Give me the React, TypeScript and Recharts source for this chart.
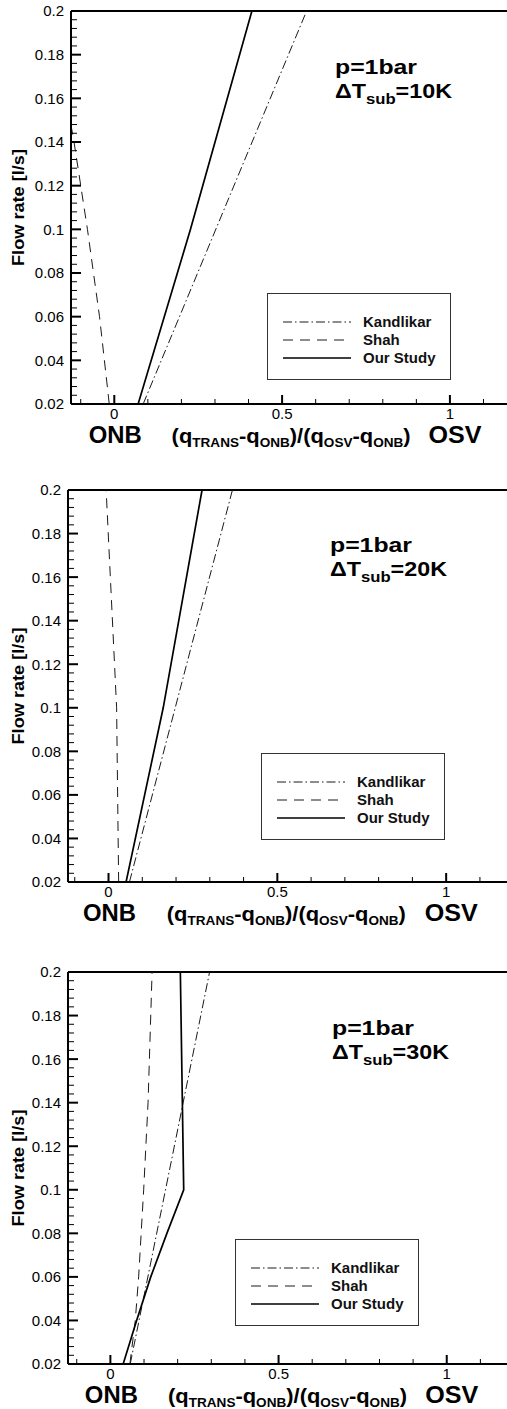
import React from "react";
import { LineChart, Line, XAxis, YAxis, ReferenceLine, Legend } from "recharts";

// ΔTsub = 10 K
const kandlikar10Flow = [0.02, 0.2];
const kandlikar10Q = [0.086, 0.573];
const shah10Flow = [0.02, 0.06, 0.1, 0.14, 0.2];
const shah10Q = [-0.015, -0.044, -0.08, -0.12, -0.19];
const study10Flow = [0.02, 0.1, 0.2];
const study10Q = [0.071, 0.227, 0.41];

// ΔTsub = 20 K
const kandlikar20Flow = [0.02, 0.2];
const kandlikar20Q = [0.062, 0.367];
const shah20Flow = [0.02, 0.1, 0.2];
const shah20Q = [0.03, 0.024, -0.007];
const study20Flow = [0.02, 0.1, 0.2];
const study20Q = [0.052, 0.162, 0.277];

// ΔTsub = 30 K
const kandlikar30Flow = [0.02, 0.2];
const kandlikar30Q = [0.059, 0.295];
const shah30Flow = [0.02, 0.04, 0.06, 0.1, 0.14, 0.2];
const shah30Q = [0.058, 0.074, 0.084, 0.099, 0.112, 0.124];
const study30Flow = [0.02, 0.04, 0.06, 0.08, 0.1, 0.2];
const study30Q = [0.038, 0.078, 0.12, 0.168, 0.218, 0.208];

const seriesNames = ["Kandlikar", "Shah", "Our Study"];
const subcooling = ["10K", "20K", "30K"];

const yMajorTicks = [0.02, 0.04, 0.06, 0.08, 0.1, 0.12, 0.14, 0.16, 0.18, 0.2];
const xMajorTicks = [0, 0.5, 1];

const FONT = "'Liberation Sans', Arial, Helvetica, sans-serif";
const CHART_W = 512;

const STYLE: Record<string, { stroke: string; width: number; dash?: string }> = {
  Kandlikar: { stroke: "#1a1a1a", width: 1, dash: "9 3 1.5 3" },
  Shah: { stroke: "#1a1a1a", width: 1, dash: "10 7" },
  "Our Study": { stroke: "#000", width: 1.7 },
};

// minor ticks: every 0.004 on flow rate, every 0.1 on the x axis
const yTicks = Array.from({ length: 46 }, (_, i) => +(0.02 + i * 0.004).toFixed(3));
const xTicks = Array.from({ length: 13 }, (_, i) => +(-0.1 + i * 0.1).toFixed(2));

const isMajor = (v: number, majors: number[]) => majors.some((m) => Math.abs(m - v) < 1e-6);

const toPoints = (q: number[], flow: number[]) => flow.map((f, i) => ({ q: q[i], flow: f }));

const panels = [
  {
    dt: subcooling[0],
    series: [
      toPoints(kandlikar10Q, kandlikar10Flow),
      toPoints(shah10Q, shah10Flow),
      toPoints(study10Q, study10Flow),
    ],
    plotTop: 11,
    plotBottom: 404,
    plotLeft: 71,
    domain: [-0.129, 1.185],
    legend: { x: 267, y: 293 },
    note: { x: 335, y: 74 },
  },
  {
    dt: subcooling[1],
    series: [
      toPoints(kandlikar20Q, kandlikar20Flow),
      toPoints(shah20Q, shah20Flow),
      toPoints(study20Q, study20Flow),
    ],
    plotTop: 490,
    plotBottom: 882,
    plotLeft: 68,
    domain: [-0.12, 1.195],
    legend: { x: 261, y: 753 },
    note: { x: 330, y: 552 },
  },
  {
    dt: subcooling[2],
    series: [
      toPoints(kandlikar30Q, kandlikar30Flow),
      toPoints(shah30Q, shah30Flow),
      toPoints(study30Q, study30Flow),
    ],
    plotTop: 972,
    plotBottom: 1364,
    plotLeft: 68,
    domain: [-0.126, 1.194],
    legend: { x: 235, y: 1239 },
    note: { x: 332, y: 1035 },
  },
];

const YTick = (props: any) => {
  const { x, y, payload } = props;
  const major = isMajor(payload.value, yMajorTicks);
  return (
    <g>
      <line x1={x} x2={x + (major ? 10 : 6)} y1={y} y2={y} stroke="#000" strokeWidth={major ? 2 : 1} />
      {major && (
        <text x={x - 7} y={y} dy="0.36em" textAnchor="end" fontSize={15} fontFamily={FONT} fill="#000">
          {String(payload.value)}
        </text>
      )}
    </g>
  );
};

const XTick = (props: any) => {
  const { x, y, payload } = props;
  const major = isMajor(payload.value, xMajorTicks);
  return (
    <g>
      <line x1={x} x2={x} y1={y} y2={y - (major ? 9 : 5)} stroke="#000" strokeWidth={major ? 2 : 1} />
      {major && (
        <text x={x} y={y + 15} textAnchor="middle" fontSize={15} fontFamily={FONT} fill="#000">
          {String(payload.value)}
        </text>
      )}
    </g>
  );
};

const LEG_W = 184;
const LEG_H = 87;

const LegendBox = () => (
  <svg width={LEG_W} height={LEG_H} style={{ display: "block" }}>
    <rect x={0.5} y={0.5} width={LEG_W - 1} height={LEG_H - 1} fill="#fff" stroke="#333" strokeWidth={1} />
    {seriesNames.map((name, i) => {
      const ry = 29 + i * 18;
      const s = STYLE[name];
      return (
        <g key={name}>
          <line x1={16} x2={84} y1={ry} y2={ry} stroke={s.stroke} strokeWidth={s.width} strokeDasharray={s.dash} />
          <text x={96} y={ry + 5} fontSize={15} fontWeight="bold" fontFamily={FONT} fill="#111">
            {name}
          </text>
        </g>
      );
    })}
  </svg>
);

function Panel({ p }: { p: (typeof panels)[number] }) {
  const chartTop = p.plotTop - 10;
  const height = p.plotBottom - p.plotTop + 10 + 60;
  return (
    <div style={{ position: "absolute", left: 0, top: chartTop }}>
      <LineChart width={CHART_W} height={height} margin={{ top: 10, right: 0, bottom: 0, left: 0 }}>
        <XAxis
          type="number"
          dataKey="q"
          domain={p.domain}
          allowDataOverflow
          ticks={xTicks.filter((t) => t >= p.domain[0] && t <= p.domain[1])}
          interval={0}
          tick={<XTick />}
          tickLine={false}
          tickSize={0}
          tickMargin={0}
          height={60}
          axisLine={{ stroke: "#000", strokeWidth: 2 }}
        />
        <YAxis
          type="number"
          domain={[0.02, 0.2]}
          allowDataOverflow
          ticks={yTicks}
          interval={0}
          tick={<YTick />}
          tickLine={false}
          tickSize={0}
          tickMargin={0}
          width={p.plotLeft}
          axisLine={{ stroke: "#000", strokeWidth: 2 }}
        />
        <ReferenceLine y={0.2} stroke="#000" strokeWidth={2} />
        {seriesNames.map((name, i) => (
          <Line
            key={name}
            name={name}
            data={p.series[i]}
            dataKey="flow"
            type="linear"
            dot={false}
            activeDot={false}
            stroke={STYLE[name].stroke}
            strokeWidth={STYLE[name].width}
            strokeDasharray={STYLE[name].dash}
            isAnimationActive={false}
          />
        ))}
        <Legend
          layout="vertical"
          align="center"
          verticalAlign="middle"
          content={() => <LegendBox />}
          wrapperStyle={{ left: p.legend.x, top: p.legend.y - chartTop, width: LEG_W, height: LEG_H }}
        />
      </LineChart>
    </div>
  );
}

function Annotations() {
  return (
    <svg
      width={507}
      height={1409}
      style={{ position: "absolute", left: 0, top: 0, pointerEvents: "none" }}
      fontFamily={FONT}
      fontWeight="bold"
      fill="#000"
    >
      {panels.map((p) => {
        const px = (v: number) => p.plotLeft + ((v - p.domain[0]) / (p.domain[1] - p.domain[0])) * (CHART_W - p.plotLeft);
        const base = p.plotBottom + 39;
        const midY = (p.plotTop + p.plotBottom) / 2;
        return (
          <g key={p.dt}>
            <text x={p.note.x} y={p.note.y} fontSize={21} textLength={82} lengthAdjust="spacingAndGlyphs">
              p=1bar
            </text>
            <text x={p.note.x} y={p.note.y + 24} fontSize={21} textLength={117} lengthAdjust="spacingAndGlyphs">
              ΔT
              <tspan dy={6} fontSize={15}>sub</tspan>
              <tspan dy={-6}>={p.dt}</tspan>
            </text>
            <text
              transform={`translate(24,${midY}) rotate(-90)`}
              textAnchor="middle"
              fontSize={16.5}
              textLength={117}
              lengthAdjust="spacingAndGlyphs"
            >
              Flow rate [l/s]
            </text>
            <text x={px(0) + 1} y={base} fontSize={23} textAnchor="middle" textLength={53} lengthAdjust="spacingAndGlyphs">
              ONB
            </text>
            <text x={px(1) + 5} y={base} fontSize={23} textAnchor="middle" textLength={53} lengthAdjust="spacingAndGlyphs">
              OSV
            </text>
            <text x={px(0.5) + 9} y={base} fontSize={21} textAnchor="middle" textLength={239} lengthAdjust="spacingAndGlyphs">
              (q<tspan dy={4} fontSize={13}>TRANS</tspan>
              <tspan dy={-4}>-q</tspan>
              <tspan dy={4} fontSize={13}>ONB</tspan>
              <tspan dy={-4}>)/(q</tspan>
              <tspan dy={4} fontSize={13}>OSV</tspan>
              <tspan dy={-4}>-q</tspan>
              <tspan dy={4} fontSize={13}>ONB</tspan>
              <tspan dy={-4}>)</tspan>
            </text>
          </g>
        );
      })}
    </svg>
  );
}

export default function App() {
  return (
    <div
      style={{
        position: "absolute",
        left: 0,
        top: 0,
        width: 507,
        height: 1409,
        overflow: "hidden",
        background: "#fff",
      }}
    >
      {panels.map((p) => (
        <Panel key={p.dt} p={p} />
      ))}
      <Annotations />
    </div>
  );
}
